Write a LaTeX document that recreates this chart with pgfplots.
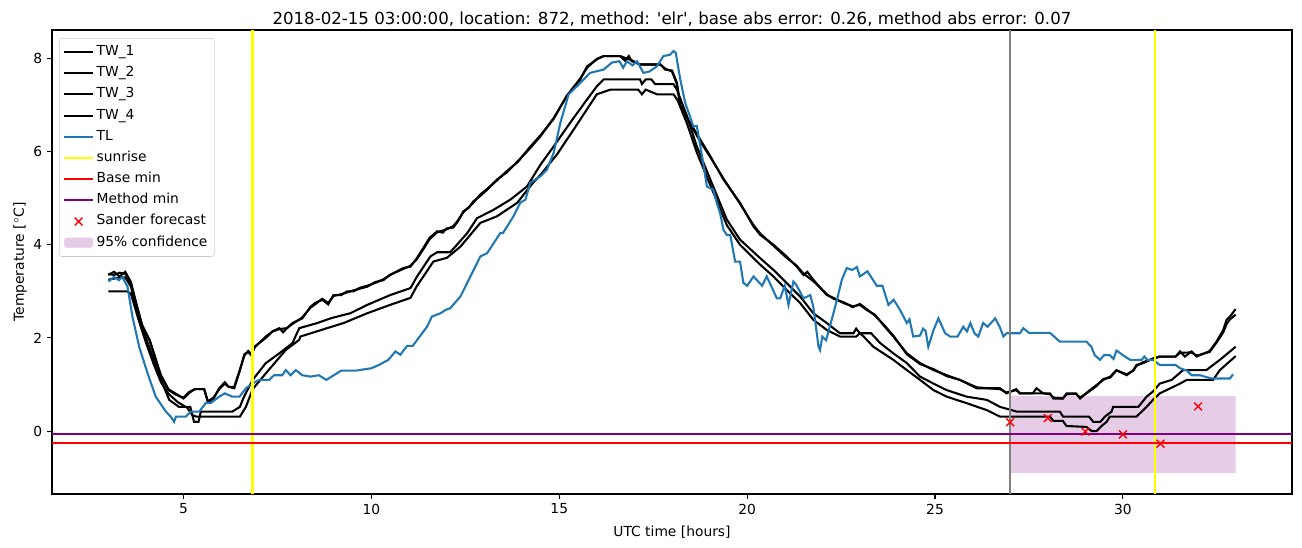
\documentclass[border=0pt]{standalone}
\usepackage{fontspec}
\setmainfont{DejaVu Sans}[Ligatures=TeXOff]
\usepackage{pgfplots}
\pgfplotsset{compat=1.18}
\definecolor{tlblue}{HTML}{1F77B4}
\definecolor{sunyellow}{RGB}{255,255,0}
\definecolor{mpurple}{RGB}{128,0,128}
\definecolor{confcol}{RGB}{230,204,230}
\definecolor{greyline}{RGB}{128,128,128}
\begin{document}
\begin{tikzpicture}
\begin{axis}[
  scale only axis,
  width=12.40in, height=4.64in,
  xmin=1.5, xmax=34.5, ymin=-1.35, ymax=8.61,
  xtick={5,10,15,20,25,30}, ytick={0,2,4,6,8},
  tick align=outside, tick pos=left,
  major tick length=3.5pt,
  tick style={black, line width=0.8pt},
  axis line style={line width=0.8pt},
  /pgf/number format/assume math mode=true,
  ticklabel style={font=\fontsize{10}{12}\selectfont},
  xlabel={UTC time [hours]}, ylabel={Temperature [$^\circ$C]},
  label style={font=\fontsize{10}{12}\selectfont},
  xlabel style={yshift=-1.5pt},
  ylabel style={yshift=-2pt},
  title={2018-02-15 03:00:00, location: 872, method: 'elr', base abs error: 0.26, method abs error: 0.07},
  every axis title shift=0pt,
  title style={font=\fontsize{12}{14}\selectfont, at={(0.5,1)}, anchor=base, yshift=4.3pt, inner sep=0pt},
  legend cell align=left,
  legend style={at={(0,1)}, anchor=north west, xshift=0.07in, yshift=-0.08in,
    draw=black!20, rounded corners=2pt, font=\fontsize{10}{12}\selectfont,
    row sep=1.3pt, inner sep=3pt,
    nodes={text height=7.5pt, text depth=2.5pt, inner sep=2pt}},
  legend image code/.code={\draw[mark repeat=2,mark phase=2,#1] plot coordinates {(0cm,0cm)(0.36cm,0cm)(0.72cm,0cm)};},
  clip=true,
]
% confidence band (drawn first)
\addplot[forget plot, draw=none, fill=confcol] coordinates {(27,-0.9) (33,-0.9) (33,0.75) (27,0.75) (27,-0.9)};

\addplot[black, line width=1.5pt] coordinates {
(3.0,3.35) (3.15,3.42) (3.3,3.32) (3.45,3.42) (3.6,3.2) (3.75,2.7) (3.9,2.25) (4.1,1.96) (4.25,1.55) (4.4,1.2)
(4.6,0.9) (4.8,0.8) (5.0,0.7) (5.15,0.82) (5.3,0.9) (5.55,0.9) (5.65,0.62) (5.8,0.7) (5.95,0.92) (6.1,1.05)
(6.2,0.95) (6.35,0.92) (6.5,1.3) (6.62,1.65) (6.72,1.7) (6.8,1.63) (6.9,1.8) (7.19,2.03) (7.37,2.14) (7.55,2.21)
(7.65,2.12) (7.75,2.21) (7.9,2.32) (8.16,2.42) (8.38,2.67) (8.5,2.75) (8.69,2.82) (8.85,2.72) (8.99,2.92) (9.2,2.92)
(9.35,3.0) (9.52,3.0) (9.7,3.08) (9.89,3.12) (10.1,3.18) (10.32,3.26) (10.5,3.35) (10.68,3.43) (10.85,3.5) (11.04,3.53)
(11.2,3.7) (11.38,3.93) (11.55,4.15) (11.75,4.29) (11.9,4.26) (12.0,4.35) (12.18,4.37) (12.3,4.5) (12.45,4.72) (12.6,4.8)
(12.71,4.93) (12.9,5.05) (13.08,5.18) (13.34,5.4) (13.6,5.55) (13.9,5.8) (14.2,6.05) (14.5,6.33) (14.85,6.72) (15.2,7.19)
(15.56,7.55) (15.74,7.83) (16.0,7.98) (16.18,8.05) (16.62,8.05) (16.75,7.95) (16.85,8.05) (16.93,7.94) (17.15,7.87) (17.69,7.87)
(17.82,7.76) (18.0,7.74) (18.13,7.48) (18.22,6.97) (18.48,6.62) (18.75,6.26) (19.02,5.9) (19.37,5.4) (19.81,4.9) (20.17,4.39)
(20.35,4.21) (20.7,4.0) (21.05,3.75) (21.32,3.53) (21.5,3.35) (21.6,3.42) (21.76,3.25) (22.12,2.92) (22.3,2.86) (22.56,2.75)
(22.81,2.68) (23.0,2.71) (23.18,2.6) (23.4,2.5) (23.62,2.28) (23.89,2.03) (24.25,1.67) (24.6,1.46) (24.96,1.31) (25.31,1.2)
(25.66,1.1) (26.11,0.92) (26.73,0.92) (26.9,0.81) (27.16,0.9) (27.26,0.81) (27.6,0.81) (27.7,0.92) (27.88,0.81) (28.06,0.81)
(28.15,0.7) (28.4,0.7) (28.5,0.81) (28.75,0.81) (28.86,0.7) (29.12,0.88) (29.3,0.99) (29.48,1.1) (29.66,1.17) (29.83,1.31)
(30.1,1.2) (30.28,1.31) (30.36,1.42) (30.54,1.46) (30.8,1.56) (30.98,1.6) (31.4,1.6) (31.52,1.71) (31.65,1.6) (31.83,1.71)
(31.96,1.6) (32.31,1.72) (32.49,1.92) (32.67,2.17) (32.76,2.39) (32.85,2.46) (33.0,2.62)};
\addlegendentry{TW\_1}

\addplot[black, line width=1.5pt] coordinates {
(3.0,3.38) (3.15,3.35) (3.3,3.4) (3.45,3.38) (3.6,3.18) (3.75,2.72) (3.9,2.28) (4.1,1.94) (4.25,1.58) (4.4,1.18)
(4.6,0.88) (4.8,0.78) (5.0,0.72) (5.15,0.84) (5.3,0.9) (5.55,0.9) (5.65,0.64) (5.8,0.72) (5.95,0.9) (6.1,1.02)
(6.2,0.95) (6.35,0.95) (6.5,1.32) (6.62,1.62) (6.72,1.72) (6.8,1.66) (6.9,1.82) (7.19,2.0) (7.37,2.14) (7.55,2.19)
(7.75,2.21) (7.9,2.3) (8.16,2.44) (8.38,2.65) (8.5,2.72) (8.69,2.84) (8.85,2.75) (8.99,2.9) (9.2,2.94) (9.52,3.02)
(9.89,3.1) (10.1,3.2) (10.32,3.24) (10.5,3.36) (10.68,3.42) (11.04,3.55) (11.2,3.68) (11.38,3.9) (11.55,4.12) (11.75,4.27)
(12.0,4.33) (12.18,4.4) (12.3,4.52) (12.45,4.7) (12.71,4.9) (12.9,5.08) (13.08,5.2) (13.34,5.38) (13.6,5.58) (13.9,5.78)
(14.2,6.08) (14.5,6.35) (14.85,6.7) (15.2,7.2) (15.56,7.57) (15.74,7.8) (16.0,7.99) (16.18,8.05) (16.62,8.05) (16.93,7.96)
(17.15,7.87) (17.69,7.87) (17.82,7.78) (18.0,7.72) (18.13,7.45) (18.22,7.0) (18.48,6.6) (18.75,6.22) (19.02,5.88) (19.37,5.42)
(19.81,4.88) (20.17,4.42) (20.35,4.24) (20.7,3.98) (21.05,3.72) (21.32,3.55) (21.5,3.38) (21.76,3.22) (22.12,2.94) (22.3,2.84)
(22.56,2.77) (22.81,2.66) (23.0,2.73) (23.18,2.62) (23.4,2.48) (23.62,2.3) (23.89,2.05) (24.25,1.65) (24.6,1.44) (24.96,1.33)
(25.31,1.18) (25.66,1.1) (26.11,0.94) (26.73,0.9) (26.9,0.83) (27.16,0.88) (27.26,0.81) (27.88,0.81) (28.06,0.79) (28.15,0.72)
(28.4,0.7) (28.5,0.79) (28.75,0.8) (28.86,0.72) (29.12,0.86) (29.3,0.97) (29.48,1.12) (29.66,1.15) (29.83,1.3) (30.1,1.22)
(30.28,1.3) (30.36,1.4) (30.54,1.48) (30.8,1.55) (30.98,1.6) (31.4,1.6) (31.52,1.68) (31.83,1.69) (31.96,1.62) (32.31,1.7)
(32.49,1.9) (32.67,2.12) (32.76,2.3) (32.85,2.4) (33.0,2.5)};
\addlegendentry{TW\_2}

\addplot[black, line width=1.5pt] coordinates {
(3.0,3.25) (3.3,3.3) (3.45,3.3) (3.6,3.1) (3.8,2.5) (4.0,2.0) (4.2,1.55) (4.4,1.1) (4.62,0.67) (4.88,0.52)
(5.18,0.52) (5.28,0.2) (5.4,0.2) (5.46,0.42) (6.3,0.42) (6.5,0.52) (6.61,0.74) (6.84,1.1) (7.19,1.46) (7.55,1.67)
(7.9,1.89) (8.08,2.21) (8.56,2.32) (8.95,2.43) (9.44,2.53) (9.89,2.71) (10.5,2.92) (11.04,3.07) (11.2,3.3) (11.57,3.75)
(11.75,3.84) (12.1,3.84) (12.55,4.25) (12.81,4.57) (13.25,4.75) (13.7,4.97) (14.14,5.25) (14.5,5.72) (14.85,6.11) (15.29,6.62)
(15.74,7.12) (16.0,7.4) (16.18,7.55) (17.15,7.55) (17.2,7.45) (17.3,7.55) (17.45,7.55) (17.55,7.45) (18.04,7.45) (18.13,7.33)
(18.4,6.76) (18.66,6.11) (19.02,5.4) (19.46,4.54) (19.81,4.11) (20.35,3.71) (20.7,3.46) (21.05,3.18) (21.41,2.89) (21.76,2.53)
(22.12,2.32) (22.47,2.1) (22.83,2.1) (22.9,2.2) (23.0,2.1) (23.3,2.1) (23.54,1.89) (23.89,1.67) (24.25,1.46) (24.6,1.17)
(24.96,1.02) (25.31,0.88) (25.84,0.74) (26.38,0.67) (26.73,0.52) (27.17,0.42) (28.32,0.42) (28.41,0.31) (29.1,0.31) (29.21,0.2)
(29.4,0.2) (29.52,0.31) (29.7,0.42) (29.74,0.52) (30.41,0.52) (30.63,0.74) (30.8,0.85) (30.98,1.02) (31.3,1.1) (31.6,1.31)
(32.22,1.31) (32.4,1.42) (32.58,1.53) (33.0,1.81)};
\addlegendentry{TW\_3}

\addplot[black, line width=1.5pt] coordinates {
(3.0,3.0) (3.5,3.0) (3.6,2.95) (3.8,2.4) (4.0,1.9) (4.2,1.45) (4.4,1.05) (4.6,0.8) (4.85,0.62) (5.1,0.5)
(5.24,0.34) (5.35,0.31) (6.5,0.31) (6.66,0.52) (6.84,0.9) (7.19,1.24) (7.72,1.74) (8.08,1.96) (8.11,2.03) (8.82,2.21)
(9.26,2.32) (9.89,2.53) (10.5,2.71) (11.04,2.86) (11.2,3.1) (11.65,3.64) (12.01,3.72) (12.37,3.96) (12.9,4.47) (13.34,4.61)
(13.88,4.9) (14.3,5.33) (14.5,5.5) (14.94,5.94) (15.38,6.47) (16.0,7.23) (16.36,7.33) (17.1,7.33) (17.2,7.23) (17.3,7.33)
(17.6,7.23) (18.04,7.23) (18.15,7.1) (18.4,6.6) (18.66,5.98) (19.02,5.28) (19.46,4.42) (19.81,4.0) (20.35,3.57) (20.7,3.32)
(21.05,3.03) (21.41,2.75) (21.76,2.39) (22.12,2.17) (22.47,2.03) (22.9,2.03) (23.0,2.1) (23.1,2.03) (23.36,1.81) (23.89,1.53)
(24.25,1.31) (24.6,1.1) (24.96,0.88) (25.31,0.74) (25.84,0.6) (26.38,0.45) (26.73,0.31) (28.06,0.31) (28.15,0.22) (28.4,0.22)
(28.5,0.11) (29.03,0.09) (29.17,0.0) (29.3,0.0) (29.43,0.11) (29.57,0.2) (29.65,0.31) (30.36,0.31) (30.63,0.52) (30.8,0.67)
(30.98,0.81) (31.52,1.02) (31.7,1.1) (32.4,1.1) (32.58,1.31) (33.0,1.61)};
\addlegendentry{TW\_4}

\addplot[tlblue, line width=1.5pt] coordinates {
(3.0,3.21) (3.15,3.31) (3.28,3.24) (3.37,3.31) (3.51,3.1) (3.64,2.46) (3.82,1.81) (4.04,1.25) (4.26,0.74) (4.53,0.42)
(4.66,0.31) (4.75,0.2) (4.8,0.31) (5.06,0.31) (5.19,0.42) (5.42,0.42) (5.59,0.6) (5.72,0.6) (5.95,0.74) (6.1,0.81)
(6.3,0.74) (6.49,0.74) (6.66,0.92) (6.84,1.02) (7.01,1.1) (7.28,1.1) (7.41,1.2) (7.63,1.2) (7.72,1.31) (7.85,1.2)
(7.99,1.31) (8.16,1.2) (8.38,1.17) (8.6,1.2) (8.8,1.1) (9.0,1.2) (9.2,1.3) (9.6,1.3) (10.0,1.35) (10.2,1.42)
(10.45,1.53) (10.64,1.71) (10.77,1.64) (10.95,1.83) (11.1,1.83) (11.48,2.24) (11.61,2.46) (11.84,2.53) (11.97,2.6) (12.1,2.64)
(12.37,2.89) (12.9,3.75) (13.08,3.82) (13.43,4.25) (13.5,4.25) (13.78,4.61) (13.96,4.9) (14.1,4.97) (14.23,5.33) (14.5,5.47)
(14.67,5.61) (14.85,5.97) (15.03,6.62) (15.25,7.23) (15.47,7.4) (15.82,7.69) (16.18,7.76) (16.4,7.91) (16.6,7.94) (16.7,7.8)
(16.8,7.94) (16.95,7.85) (17.07,7.94) (17.24,7.69) (17.4,7.72) (17.6,7.83) (17.77,8.05) (17.95,8.08) (18.04,8.16) (18.1,8.12)
(18.22,7.55) (18.35,7.05) (18.57,6.54) (18.66,6.55) (18.8,5.9) (18.93,5.25) (19.1,5.18) (19.19,4.9) (19.28,4.68) (19.37,4.32)
(19.46,4.21) (19.55,4.21) (19.68,3.64) (19.81,3.64) (19.9,3.18) (20.0,3.12) (20.17,3.32) (20.25,3.25) (20.4,3.12) (20.52,3.32)
(20.66,3.08) (20.79,2.85) (20.88,2.85) (21.0,3.12) (21.1,2.71) (21.23,3.21) (21.3,3.15) (21.5,2.85) (21.68,2.92) (21.76,2.67)
(21.9,1.81) (21.94,1.74) (22.0,2.03) (22.1,1.95) (22.25,2.39) (22.39,2.82) (22.52,3.25) (22.65,3.5) (22.79,3.46) (22.92,3.52)
(23.0,3.32) (23.2,3.43) (23.45,3.12) (23.6,3.12) (23.76,2.71) (23.9,2.82) (24.07,2.6) (24.25,2.32) (24.32,2.4) (24.42,2.03)
(24.6,2.05) (24.68,2.2) (24.75,2.15) (24.82,1.81) (24.96,2.17) (25.09,2.42) (25.27,2.1) (25.4,2.03) (25.6,2.03) (25.75,2.24)
(25.85,2.14) (25.94,2.32) (26.05,2.1) (26.15,2.03) (26.28,2.32) (26.4,2.24) (26.6,2.42) (26.72,2.24) (26.82,2.03) (26.9,2.1)
(27.26,2.1) (27.35,2.21) (27.5,2.11) (28.06,2.11) (28.32,1.92) (29.03,1.92) (29.16,1.81) (29.25,1.63) (29.39,1.53) (29.5,1.63)
(29.65,1.63) (29.75,1.55) (29.83,1.73) (30.0,1.63) (30.19,1.53) (30.5,1.53) (30.57,1.6) (30.65,1.53) (30.8,1.53) (30.98,1.42)
(31.4,1.42) (31.52,1.35) (31.7,1.3) (31.83,1.2) (32.05,1.2) (32.36,1.13) (32.85,1.13) (32.93,1.22)};
\addlegendentry{TL}

\addplot[sunyellow, line width=1.5pt] coordinates {(6.835,-1.35) (6.835,8.61)};
\addlegendentry{sunrise}
\addplot[forget plot, sunyellow, line width=1.5pt] coordinates {(30.85,-1.35) (30.85,8.61)};
\addplot[forget plot, greyline, line width=1.5pt] coordinates {(27,-1.35) (27,8.61)};

\addplot[red, line width=1.5pt] coordinates {(1.5,-0.26) (34.5,-0.26)};
\addlegendentry{Base min}
\addplot[mpurple, line width=1.5pt] coordinates {(1.5,-0.065) (34.5,-0.065)};
\addlegendentry{Method min}

\addplot[only marks, red, mark=x, mark size=4pt, mark options={line width=1pt}] coordinates {
(27,0.19) (28,0.28) (29,-0.01) (30,-0.07) (31,-0.27) (32,0.53)};
\addlegendentry{Sander forecast}

\addlegendimage{legend image code/.code={\fill[confcol] (0cm,-0.12cm) rectangle (0.72cm,0.12cm);}}
\addlegendentry{95\% confidence}
\end{axis}
\pgfresetboundingbox
\path ([shift={(-0.52in,-0.53in)}]current axis.south west) rectangle ([shift={(0.10in,0.30in)}]current axis.north east);
\end{tikzpicture}
\end{document}
